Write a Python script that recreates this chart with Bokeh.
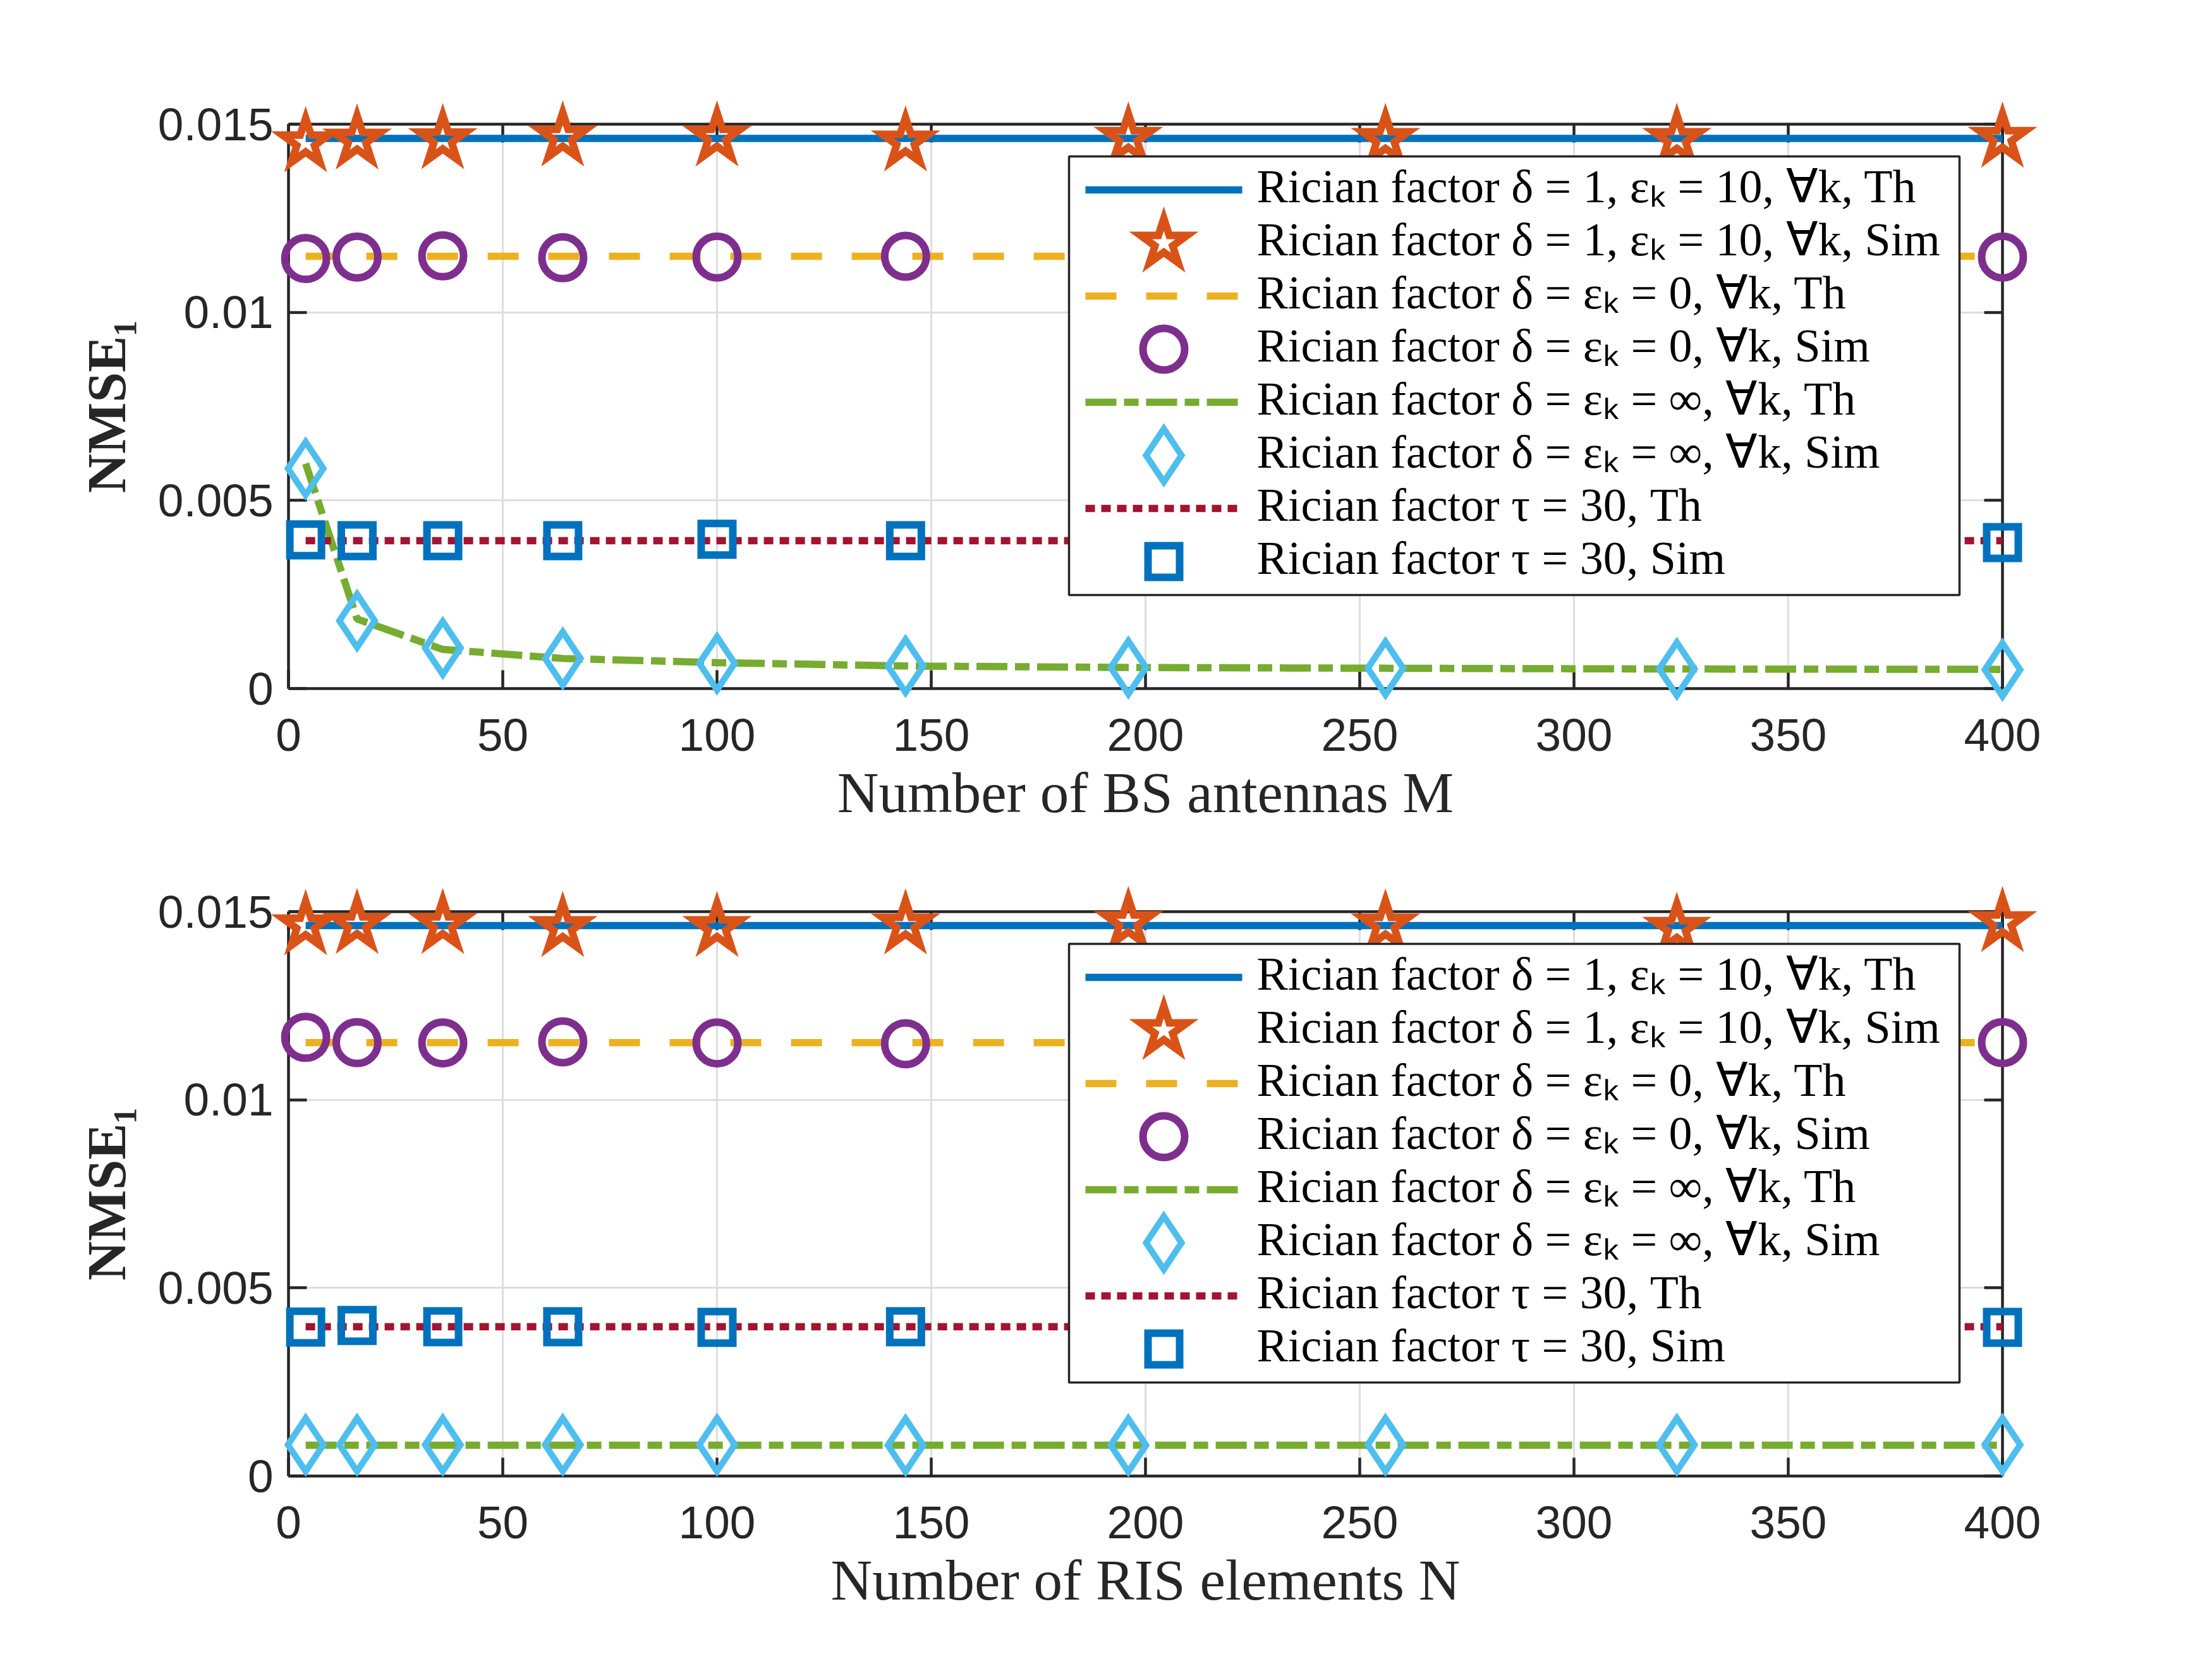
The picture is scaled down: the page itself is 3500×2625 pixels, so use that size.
from bokeh.plotting import figure
from bokeh.models import LinearAxis, FixedTicker, PrintfTickFormatter, Range1d
from bokeh.core.properties import value
from bokeh.layouts import column
from bokeh.embed import file_html
from bokeh.resources import INLINE

# ---------------- data ----------------
x_pts = [4, 16, 36, 64, 100, 144, 196, 256, 324, 400]

# top panel: vs number of BS antennas M
th1_M = [0.01462, 0.01462, 0.01462, 0.01462, 0.01462, 0.01462, 0.01462, 0.01462, 0.01462, 0.01462]
sim1_M = [0.01451, 0.01458, 0.01459, 0.01466, 0.01466, 0.01453, 0.01463, 0.01460, 0.01460, 0.01463]
th2_M = [0.01149, 0.01149, 0.01149, 0.01149, 0.01149, 0.01149, 0.01149, 0.01149, 0.01149, 0.01149]
sim2_M = [0.01143, 0.01147, 0.01150, 0.01145, 0.01147, 0.01149, 0.01148, 0.01148, 0.01148, 0.01147]
th3_M = [0.00598, 0.00185, 0.00104, 0.00080, 0.00069, 0.00060, 0.00056, 0.00054, 0.00052, 0.00051]
sim3_M = [0.00585, 0.00180, 0.00108, 0.00080, 0.00067, 0.00060, 0.00056, 0.00054, 0.00052, 0.00050]
th4_M = [0.00393, 0.00393, 0.00393, 0.00393, 0.00393, 0.00393, 0.00393, 0.00393, 0.00393, 0.00393]
sim4_M = [0.00395, 0.00393, 0.00393, 0.00393, 0.00397, 0.00393, 0.00393, 0.00393, 0.00393, 0.00388]

# bottom panel: vs number of RIS elements N
th1_N = [0.01463, 0.01463, 0.01463, 0.01463, 0.01463, 0.01463, 0.01463, 0.01463, 0.01463, 0.01463]
sim1_N = [0.01463, 0.01466, 0.01466, 0.01458, 0.01458, 0.01465, 0.01471, 0.01465, 0.01456, 0.01471]
th2_N = [0.01152, 0.01152, 0.01152, 0.01152, 0.01152, 0.01152, 0.01152, 0.01152, 0.01152, 0.01152]
sim2_N = [0.01166, 0.01152, 0.01151, 0.01154, 0.01151, 0.01149, 0.01150, 0.01150, 0.01150, 0.01152]
th3_N = [0.00082, 0.00082, 0.00082, 0.00082, 0.00082, 0.00082, 0.00082, 0.00082, 0.00082, 0.00082]
sim3_N = [0.00083, 0.00083, 0.00083, 0.00083, 0.00083, 0.00082, 0.00082, 0.00083, 0.00083, 0.00083]
th4_N = [0.00397, 0.00397, 0.00397, 0.00397, 0.00397, 0.00397, 0.00397, 0.00397, 0.00397, 0.00397]
sim4_N = [0.00396, 0.00400, 0.00397, 0.00397, 0.00395, 0.00397, 0.00397, 0.00397, 0.00397, 0.00395]

legend_labels = [
    "Rician factor δ = 1, εₖ = 10, ∀k, Th",
    "Rician factor δ = 1, εₖ = 10, ∀k, Sim",
    "Rician factor δ = εₖ = 0, ∀k, Th",
    "Rician factor δ = εₖ = 0, ∀k, Sim",
    "Rician factor δ = εₖ = ∞, ∀k, Th",
    "Rician factor δ = εₖ = ∞, ∀k, Sim",
    "Rician factor τ = 30, Th",
    "Rician factor τ = 30, Sim",
]
x_ticks = [0, 50, 100, 150, 200, 250, 300, 350, 400]
y_ticks = [0, 0.005, 0.01, 0.015]
x_labels = ["Number of BS antennas M", "Number of RIS elements N"]
y_label = "NMSE₁"

# ---------------- style / layout ----------------
C_BLUE, C_ORANGE, C_YELLOW = "#0072BD", "#D95319", "#EDB120"
C_PURPLE, C_GREEN, C_CYAN, C_RED = "#7E2F8E", "#77AC30", "#4DBEEE", "#A2142F"
AX = "#262626"
X_MIN, X_MAX, Y_MIN, Y_MAX = 0, 400, 0, 0.015
AXES_W = 2712
B_LEFT = 456
LW = 11.5
LVL = "annotation"   # not clipped to the frame, like MATLAB markers on the box edge

MK = [
    dict(marker="star", size=77, line_color=C_ORANGE, line_width=12),
    dict(marker="circle", size=66, line_color=C_PURPLE, line_width=12),
    dict(marker="diamond", size=84, line_color=C_CYAN, line_width=10),
    dict(marker="square", size=50, line_color=C_BLUE, line_width=12),
]
LN = [
    dict(line_color=C_BLUE, line_width=LW),
    dict(line_color=C_YELLOW, line_width=LW, line_dash="49 47"),
    dict(line_color=C_GREEN, line_width=LW, line_dash="49 12 23 12"),
    dict(line_color=C_RED, line_width=LW, line_dash="15 10"),
]

# legend layout in px relative to the axes box (left edge / top edge)
LEG_L, LEG_R, LEG_T, LEG_B = 1235, 2644, 51, 745
ROW0, ROW = 104, 84
KEY_X0, KEY_X1, TXT_X = 1261, 1509, 1532
TXT_Y0 = 98


def style_axis(ax, labels=True):
    ax.axis_line_color = AX
    ax.axis_line_width = 4.5
    ax.major_tick_line_color = AX
    ax.major_tick_line_width = 4.5
    ax.major_tick_in = 29
    ax.major_tick_out = 0
    ax.minor_tick_line_color = None
    ax.major_label_text_font = "Liberation Sans"
    ax.major_label_text_font_size = "73px" if labels else "0px"
    ax.major_label_text_color = AX
    if not labels:
        ax.formatter = PrintfTickFormatter(format="")
        ax.major_label_standoff = 0


def make_panel(xlabel, series, axes_h, b_top, b_bot):
    th1, sim1, th2, sim2, th3, sim3, th4, sim4 = series
    p = figure(frame_width=AXES_W, frame_height=axes_h,
               min_border_left=B_LEFT, min_border_right=3484 - B_LEFT - AXES_W,
               min_border_top=b_top, min_border_bottom=b_bot,
               x_range=Range1d(X_MIN, X_MAX), y_range=Range1d(Y_MIN, Y_MAX),
               output_backend="svg", toolbar_location=None,
               background_fill_color="white", border_fill_color="white")
    p.outline_line_color = None

    def px_x(d):
        return X_MIN + d / AXES_W * (X_MAX - X_MIN)

    def px_y(d):
        return Y_MAX - d / axes_h * (Y_MAX - Y_MIN)

    p.xgrid.ticker = FixedTicker(ticks=x_ticks)
    p.ygrid.ticker = FixedTicker(ticks=y_ticks)
    for g in (p.xgrid, p.ygrid):
        g.grid_line_color = "#dedede"
        g.grid_line_width = 3

    xa, ya = p.xaxis[0], p.yaxis[0]
    xa.ticker = FixedTicker(ticks=x_ticks)
    ya.ticker = FixedTicker(ticks=y_ticks)
    ya.formatter = PrintfTickFormatter(format="%g")
    style_axis(xa)
    style_axis(ya)
    xa.axis_label = xlabel
    xa.axis_label_text_font = "Liberation Serif"
    xa.axis_label_text_font_style = "normal"
    xa.axis_label_text_font_size = "91px"
    xa.axis_label_text_color = AX
    xa.major_label_standoff = 48
    xa.axis_label_standoff = 13
    ya.axis_label = y_label
    ya.axis_label_text_font = "Liberation Serif"
    ya.axis_label_text_font_style = "bold"
    ya.axis_label_text_font_size = "86px"
    ya.axis_label_text_color = AX
    ya.major_label_standoff = 24
    ya.axis_label_standoff = 30

    top_ax = LinearAxis(ticker=FixedTicker(ticks=x_ticks))
    right_ax = LinearAxis(ticker=FixedTicker(ticks=y_ticks))
    style_axis(top_ax, labels=False)
    style_axis(right_ax, labels=False)
    p.add_layout(top_ax, "above")
    p.add_layout(right_ax, "right")

    # data
    ths = [th1, th2, th3, th4]
    sims = [sim1, sim2, sim3, sim4]
    for k in range(4):
        p.line(x_pts, ths[k], level=LVL, **LN[k])
        p.scatter(x_pts, sims[k], fill_color=None, line_join="miter", level=LVL, **MK[k])

    # legend (north-east), drawn on top of the data
    p.quad(left=[px_x(LEG_L)], right=[px_x(LEG_R)], top=[px_y(LEG_T)], bottom=[px_y(LEG_B)],
           fill_color="white", line_color=AX, line_width=3.5, level=LVL)
    for k in range(4):
        yl = px_y(ROW0 + ROW * (2 * k))
        p.line([px_x(KEY_X0), px_x(KEY_X1)], [yl, yl], level=LVL, **LN[k])
        ym = px_y(ROW0 + ROW * (2 * k + 1))
        p.scatter([px_x((KEY_X0 + KEY_X1) / 2)], [ym], fill_color=None,
                  line_join="miter", level=LVL, **MK[k])
    p.text(x=[px_x(TXT_X)] * len(legend_labels),
           y=[px_y(TXT_Y0 + ROW * i) for i in range(len(legend_labels))],
           text=legend_labels, text_font=value("Liberation Serif"),
           text_font_size="74px", text_baseline="middle", text_align="left",
           text_color="#000000", level=LVL)
    return p


p1 = make_panel(x_labels[0], [th1_M, sim1_M, th2_M, sim2_M, th3_M, sim3_M, th4_M, sim4_M],
                893, 196, 220)
p2 = make_panel(x_labels[1], [th1_N, sim1_N, th2_N, sim2_N, th3_N, sim3_N, th4_N, sim4_N],
                893, 133, 250)

layout = column(p1, p2, spacing=0)
open("out.html", "w").write(file_html(layout, INLINE))
